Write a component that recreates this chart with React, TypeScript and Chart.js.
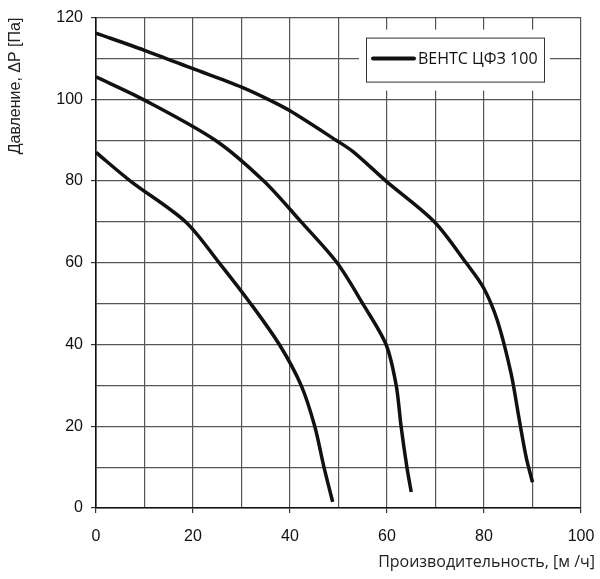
import React, { useEffect, useRef } from 'react';
import { Chart, registerables } from 'chart.js';

Chart.register(...registerables);

// fan curves of one fan at three speeds, flow in m3/h, pressure in Pa
const flowHigh = [0, 10, 20, 30, 35.5, 40, 49.5, 53, 59.8, 69.8, 76.3, 79.9, 82.8, 85.6, 87.3, 88.7, 90];
const pressureHigh = [116.2, 112, 107.5, 103, 100, 97.2, 90, 87.2, 80, 70, 60, 53.9, 45.7, 32.8, 21.4, 12.4, 6.3];

const flowMid = [0, 9.7, 24.6, 34.6, 42.3, 49.7, 55, 59.8, 61.9, 62.9, 64.1, 65];
const pressureMid = [105.5, 100, 90, 80, 70, 60, 50, 40, 30, 20, 10, 3.9];

const flowLow = [0, 7.1, 18.5, 25.4, 31.9, 37.8, 42.3, 45.1, 47, 48.8];
const pressureLow = [87, 80, 70, 60, 50, 40, 30, 20, 10, 1.5];

const seriesName = 'ВЕНТС ЦФЗ 100';
const xAxisTitle = 'Производительность, [м /ч]';
const yAxisTitle = 'Давление, ΔР [Па]';

const zip = (xs: number[], ys: number[]) => xs.map((x, i) => ({ x, y: ys[i] }));

// legend box drawn inside the plot, with a white margin that cuts the grid
const legendBox = {
  id: 'legendBox',
  afterDraw(chart: any) {
    const { ctx, chartArea } = chart;
    const left = chartArea.right - 215;
    const top = chartArea.top + 20;
    const w = 178;
    const h = 44;
    ctx.save();
    ctx.fillStyle = '#fff';
    ctx.fillRect(left - 7, top - 8, w + 13, h + 17);
    ctx.strokeStyle = '#333';
    ctx.lineWidth = 1;
    ctx.strokeRect(left + 0.5, top + 0.5, w, h);
    ctx.strokeStyle = '#111';
    ctx.lineWidth = 4;
    ctx.lineCap = 'round';
    ctx.beginPath();
    ctx.moveTo(left + 7, top + 21);
    ctx.lineTo(left + 48, top + 21);
    ctx.stroke();
    ctx.fillStyle = '#111';
    ctx.font = '16px "Open Sans"';
    ctx.textBaseline = 'middle';
    ctx.textAlign = 'left';
    ctx.fillText(chart.data.datasets[0].label, left + 52, top + 22);
    ctx.restore();
  },
};

const xTitle = {
  id: 'xTitle',
  afterDraw(chart: any) {
    const { ctx } = chart;
    ctx.save();
    ctx.fillStyle = '#222';
    ctx.font = '16px "Open Sans"';
    ctx.textAlign = 'right';
    ctx.textBaseline = 'middle';
    ctx.fillText(xAxisTitle, chart.width - 5, 562);
    ctx.restore();
  },
};

const App: React.FC = () => {
  const canvasRef = useRef<HTMLCanvasElement | null>(null);

  useEffect(() => {
    if (!canvasRef.current) return;
    const line = {
      borderColor: '#111',
      borderWidth: 3.5,
      pointRadius: 0,
      tension: 0.3,
      fill: false,
    };
    const tickMark = (c: any) => (c.tick && c.tick.value % 20 === 0 ? '#333' : 'rgba(0,0,0,0)');

    const chart = new Chart(canvasRef.current, {
      type: 'line',
      data: {
        datasets: [
          { label: seriesName, data: zip(flowHigh, pressureHigh), ...line },
          { label: seriesName, data: zip(flowMid, pressureMid), ...line },
          { label: seriesName, data: zip(flowLow, pressureLow), ...line },
        ],
      },
      options: {
        animation: false,
        responsive: false,
        layout: { padding: { top: 15, right: 19, left: 0, bottom: 0 } },
        plugins: { legend: { display: false }, tooltip: { enabled: false } },
        scales: {
          x: {
            type: 'linear',
            min: 0,
            max: 100,
            afterFit: (s: any) => {
              s.height = 71;
              s.paddingLeft = 0;
              s.paddingRight = 0;
            },
            ticks: {
              stepSize: 10,
              autoSkip: false,
              maxRotation: 0,
              padding: 14,
              color: '#111',
              font: { family: '"Liberation Sans"', size: 16 },
              callback: (v: any) => (v % 20 === 0 ? String(v) : ''),
            },
            grid: { color: '#555', lineWidth: 1.2, tickLength: 5, tickColor: tickMark },
            border: { color: '#111', width: 1.6 },
          },
          y: {
            min: 0,
            max: 120,
            afterFit: (s: any) => {
              s.width = 96;
            },
            ticks: {
              stepSize: 10,
              autoSkip: false,
              padding: 8,
              color: '#111',
              font: { family: '"Liberation Sans"', size: 16 },
              callback: (v: any) => (v % 20 === 0 ? String(v) : ''),
            },
            grid: { color: '#555', lineWidth: 1.2, tickLength: 5, tickColor: tickMark },
            border: { color: '#111', width: 1.6 },
            title: {
              display: true,
              text: yAxisTitle,
              align: 'end',
              color: '#222',
              font: { family: '"Liberation Sans"', size: 16 },
              padding: { top: 6, bottom: 0 },
            },
          },
        },
      },
      plugins: [legendBox, xTitle],
    });

    return () => {
      chart.destroy();
    };
  }, []);

  return (
    <div style={{ position: 'fixed', left: 0, top: 0, width: 600, height: 579, background: '#fff' }}>
      <canvas ref={canvasRef} width={600} height={579}></canvas>
    </div>
  );
};

export default App;
